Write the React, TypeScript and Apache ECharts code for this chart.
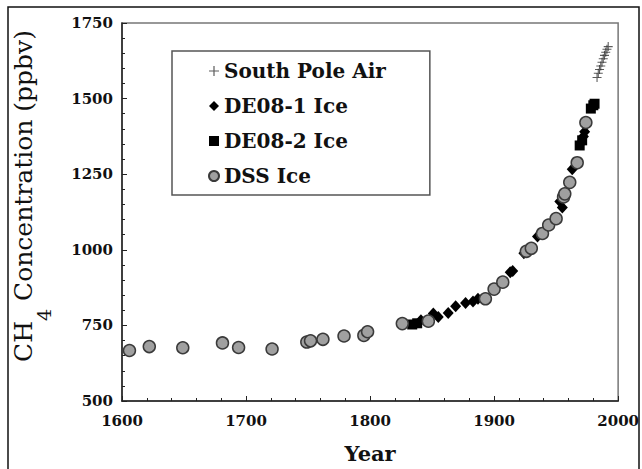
import React, { useEffect, useRef } from "react";
import * as echarts from "echarts";

const southPoleAir: [number, number][] = [
  [1983, 1570], [1984, 1584], [1985, 1596], [1986, 1608], [1987, 1620],
  [1988, 1632], [1989, 1643], [1990, 1653], [1991, 1663], [1992, 1672],
];

const de081Ice: [number, number][] = [
  [1841, 767], [1851, 789], [1855, 778], [1863, 791], [1869, 813],
  [1877, 824], [1883, 829], [1887, 838], [1913, 926], [1915, 930],
  [1924, 989], [1935, 1044], [1953, 1160], [1955, 1140], [1963, 1266],
  [1970, 1353], [1972, 1375], [1973, 1390],
];

const de082Ice: [number, number][] = [
  [1834, 753], [1838, 757], [1969, 1345], [1971, 1362],
  [1978, 1467], [1980, 1478], [1981, 1483],
];

const dssIce: [number, number][] = [
  [1606, 667], [1622, 680], [1649, 676], [1681, 692], [1694, 677],
  [1721, 672], [1749, 695], [1752, 699], [1762, 704], [1779, 715],
  [1795, 717], [1798, 729], [1826, 756], [1847, 764], [1893, 838],
  [1900, 870], [1907, 893], [1926, 995], [1930, 1005], [1939, 1054],
  [1944, 1082], [1950, 1103], [1956, 1175], [1957, 1185], [1961, 1223],
  [1967, 1288], [1974, 1421],
];

const legendNames = ["South Pole Air", "DE08-1 Ice", "DE08-2 Ice", "DSS Ice"];

const PLUS =
  "path://M-0.12,-1H0.12V-0.12H1V0.12H0.12V1H-0.12V0.12H-1V-0.12H-0.12Z";

const SERIF = "'DejaVu Serif', serif";

export default function App() {
  const ref = useRef<HTMLDivElement>(null);
  useEffect(() => {
    if (!ref.current) return;
    const chart = echarts.init(ref.current, undefined, { renderer: "svg" });
    chart.setOption({
      animation: false,
      backgroundColor: "#ffffff",
      grid: {
        left: 122,
        right: 23,
        top: 23,
        bottom: 62,
        show: true,
        borderColor: "#777",
        borderWidth: 1.5,
      },
      xAxis: {
        type: "value",
        min: 1600,
        max: 2000,
        interval: 100,
        name: "Year",
        nameLocation: "middle",
        nameGap: 42,
        nameTextStyle: {
          fontFamily: SERIF,
          fontWeight: "bold",
          fontSize: 21,
          color: "#111",
        },
        axisLine: { show: true, lineStyle: { color: "#222", width: 1.5 } },
        axisTick: { show: true, inside: true, length: 5, lineStyle: { color: "#222" } },
        minorTick: { show: true, splitNumber: 5, length: 3, lineStyle: { color: "#222" } },
        splitLine: { show: false },
        axisLabel: {
          margin: 12,
          fontFamily: SERIF,
          fontWeight: "bold",
          fontSize: 15,
          color: "#111",
          formatter: (v: number) => String(v),
        },
      },
      yAxis: {
        type: "value",
        min: 500,
        max: 1750,
        interval: 250,
        axisLine: { show: true, lineStyle: { color: "#222", width: 1.5 } },
        axisTick: { show: true, inside: true, length: 5, lineStyle: { color: "#222" } },
        minorTick: { show: true, splitNumber: 5, length: 3, lineStyle: { color: "#222" } },
        splitLine: { show: false },
        axisLabel: {
          margin: 9,
          fontFamily: SERIF,
          fontWeight: "bold",
          fontSize: 15,
          color: "#111",
          formatter: (v: number) => String(v),
        },
      },
      legend: {
        data: legendNames,
        orient: "vertical",
        left: 172,
        top: 51,
        padding: [10, 44, 9, 36],
        itemGap: 15,
        itemWidth: 10,
        itemHeight: 10,
        borderColor: "#555",
        borderWidth: 1.5,
        backgroundColor: "#fff",
        textStyle: {
          fontFamily: SERIF,
          fontWeight: "bold",
          fontSize: 20,
          color: "#111",
          lineHeight: 20,
        },
      },
      graphic: [
        {
          type: "rect",
          x: 8,
          y: 7,
          shape: { x: 0, y: 0, width: 631, height: 470 },
          style: { fill: "none", stroke: "#111", lineWidth: 1.5 },
          silent: true,
          z: 100,
        },
        {
          type: "text",
          x: 23,
          y: 196,
          rotation: Math.PI / 2,
          style: {
            text: "{n|CH}{s|4}{n| Concentration (ppbv)}",
            align: "center",
            verticalAlign: "middle",
            fill: "#111",
            rich: {
              n: {
                fontFamily: SERIF,
                fontSize: 25,
                lineHeight: 60,
                verticalAlign: "middle",
                fill: "#111",
              },
              s: {
                fontFamily: SERIF,
                fontSize: 19,
                lineHeight: 60,
                verticalAlign: "bottom",
                fill: "#111",
              },
            },
          },
          z: 100,
        },
      ],
      series: [
        {
          name: "South Pole Air",
          type: "scatter",
          data: southPoleAir,
          symbol: PLUS,
          symbolSize: 9,
          itemStyle: { color: "#333" },
        },
        {
          name: "DE08-1 Ice",
          type: "scatter",
          data: de081Ice,
          symbol: "diamond",
          symbolSize: [11, 12],
          itemStyle: { color: "#000", opacity: 1 },
        },
        {
          name: "DE08-2 Ice",
          type: "scatter",
          data: de082Ice,
          symbol: "rect",
          symbolSize: 10,
          itemStyle: { color: "#000", opacity: 1 },
        },
        {
          name: "DSS Ice",
          type: "scatter",
          data: dssIce,
          symbol: "circle",
          symbolSize: 12,
          itemStyle: { color: "#a0a0a0", borderColor: "#3a3a3a", borderWidth: 1.5, opacity: 1 },
        },
      ],
    });
    return () => chart.dispose();
  }, []);
  return (
    <div
      ref={ref}
      style={{ position: "fixed", left: 0, top: 0, width: 642, height: 469, background: "#fff" }}
    />
  );
}
